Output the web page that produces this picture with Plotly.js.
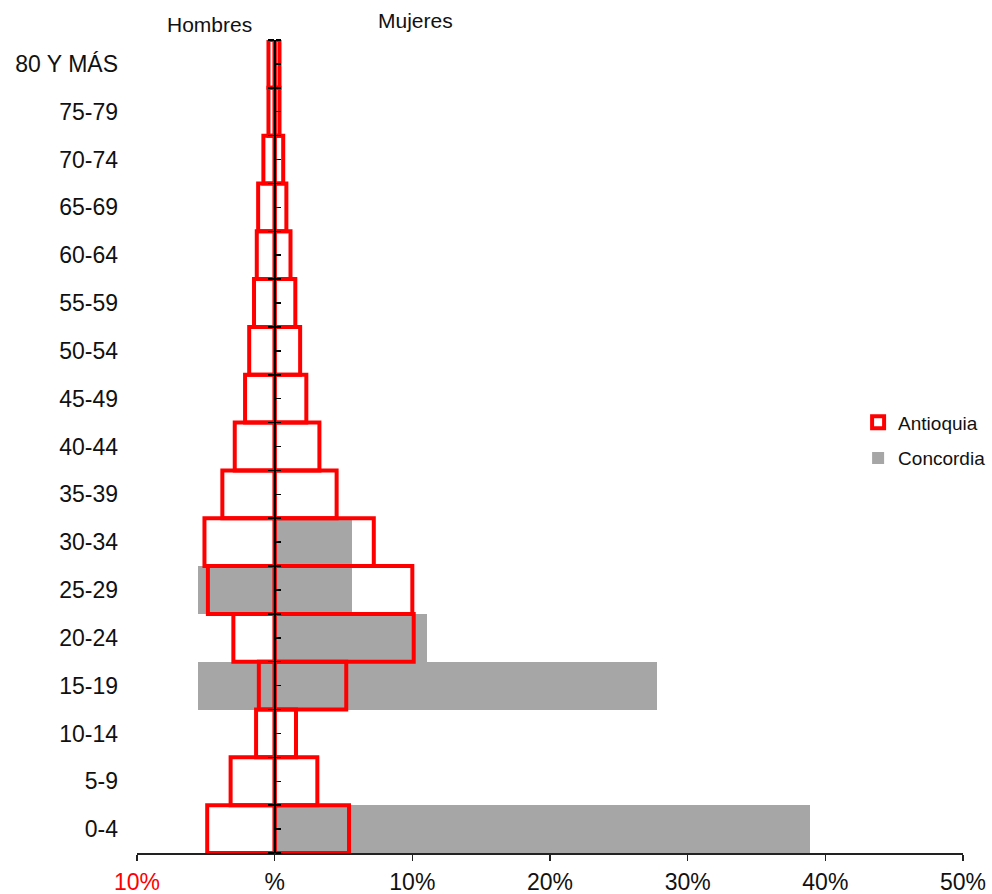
<!DOCTYPE html>
<html>
<head>
<meta charset="utf-8">
<script src="https://cdn.plot.ly/plotly-3.0.1.min.js"></script>
<style>
  html, body { margin: 0; padding: 0; background: #fff; }
  #chart { width: 992px; height: 894px; }
</style>
</head>
<body>
<div id="chart"></div>
<script>
// Age groups, youngest at the bottom
const ages = ['0-4', '5-9', '10-14', '15-19', '20-24', '25-29', '30-34', '35-39',
  '40-44', '45-49', '50-54', '55-59', '60-64', '65-69', '70-74', '75-79', '80 Y MÁS'];

// Share of population (%) per age group
const antioquiaHombres = [4.9, 3.2, 1.35, 1.15, 3.0, 4.85, 5.1, 3.8, 2.9, 2.15, 1.85, 1.5, 1.3, 1.2, 0.82, 0.45, 0.45];
const antioquiaMujeres = [5.4, 3.1, 1.55, 5.2, 10.1, 10.0, 7.2, 4.5, 3.25, 2.3, 1.85, 1.5, 1.15, 0.85, 0.62, 0.35, 0.35];
const concordiaHombres = [0, 0, 0, 5.6, 0, 5.6, 0, 0, 0, 0, 0, 0, 0, 0, 0, 0, 0];
const concordiaMujeres = [38.9, 0, 0, 27.8, 11.1, 5.6, 5.6, 0, 0, 0, 0, 0, 0, 0, 0, 0, 0];

// Horizontal axis ticks
const xTickVals = [-10, 0, 10, 20, 30, 40, 50];
const xTickText = ['<span style="color:#ff0000">10%</span>', '%', '10%', '20%', '30%', '40%', '50%'];

const FONT = 'Liberation Sans, Arial, sans-serif';
const RED = '#ff0000';
const GRAY = '#a6a6a6';

const neg = arr => arr.map(v => -v);

const traces = [
  {
    type: 'bar', orientation: 'h', name: 'Concordia', legendgroup: 'c',
    y: ages, x: neg(concordiaHombres),
    marker: { color: GRAY, line: { width: 0 } }, showlegend: false, legendrank: 2
  },
  {
    type: 'bar', orientation: 'h', name: 'Concordia', legendgroup: 'c',
    y: ages, x: concordiaMujeres,
    marker: { color: GRAY, line: { width: 0 } }, showlegend: true, legendrank: 2
  },
  {
    type: 'bar', orientation: 'h', name: 'Antioquia', legendgroup: 'a',
    y: ages, x: neg(antioquiaHombres),
    marker: { color: 'rgba(255,255,255,0)', line: { color: RED, width: 4 } }, showlegend: false, legendrank: 1
  },
  {
    type: 'bar', orientation: 'h', name: 'Antioquia', legendgroup: 'a',
    y: ages, x: antioquiaMujeres,
    marker: { color: 'rgba(255,255,255,0)', line: { color: RED, width: 4 } }, showlegend: true, legendrank: 1
  }
];

const nCat = ages.length;
const zeroPos = (0 - xTickVals[0]) / (xTickVals[xTickVals.length - 1] - xTickVals[0]);

const layout = {
  width: 992, height: 894,
  margin: { l: 137, r: 29, t: 40, b: 41, autoexpand: false },
  paper_bgcolor: '#fff', plot_bgcolor: '#fff',
  barmode: 'overlay', bargap: 0,
  font: { family: FONT, color: '#111', size: 23 },
  xaxis: {
    range: [xTickVals[0], xTickVals[xTickVals.length - 1]],
    tickvals: xTickVals, ticktext: xTickText,
    ticks: 'outside', ticklen: 6, tickcolor: '#222', tickwidth: 1.5,
    showline: true, linecolor: '#222', linewidth: 1.5,
    showgrid: false, zeroline: false, ticklabelstandoff: 2,
    tickfont: { family: FONT, size: 23, color: '#111' }
  },
  yaxis: {
    type: 'category', range: [-0.5, nCat - 0.5],
    showline: false, ticks: '', showgrid: false, zeroline: false,
    ticklabelstandoff: 18,
    tickfont: { family: FONT, size: 23, color: '#111' }
  },
  // vertical axis along the 0 % line: left half of the boundary ticks
  yaxis2: {
    overlaying: 'y', anchor: 'free', position: zeroPos, side: 'left',
    range: [-0.5, nCat - 0.5], tick0: -0.5, dtick: 1,
    ticks: 'outside', ticklen: 6, tickwidth: 1.5, tickcolor: '#000',
    showline: true, linecolor: '#000', linewidth: 2.5,
    showticklabels: false, showgrid: false, zeroline: false, layer: 'above traces'
  },
  // right-hand ticks at boundaries and group centres
  yaxis3: {
    overlaying: 'y', anchor: 'free', position: zeroPos, side: 'right',
    range: [-0.5, nCat - 0.5], tick0: -0.5, dtick: 0.5,
    ticks: 'outside', ticklen: 5, tickwidth: 1.5, tickcolor: '#000',
    showline: false, showticklabels: false, showgrid: false, zeroline: false, layer: 'above traces'
  },
  legend: {
    x: 0.873, y: 0.553, xanchor: 'left', yanchor: 'top',
    bgcolor: 'rgba(0,0,0,0)', traceorder: 'grouped', tracegroupgap: 8,
    font: { family: FONT, size: 19, color: '#111' }
  },
  annotations: [
    { text: 'Hombres', xref: 'x', yref: 'paper', x: -4.75, y: 1.0185, yanchor: 'middle', showarrow: false,
      font: { family: FONT, size: 21, color: '#111' } },
    { text: 'Mujeres', xref: 'x', yref: 'paper', x: 10.2, y: 1.0234, yanchor: 'middle', showarrow: false,
      font: { family: FONT, size: 21, color: '#111' } }
  ],
  showlegend: true
};

// invisible carriers so the overlay axes are drawn
traces.push({ type: 'scatter', x: [null], y: [null], yaxis: 'y2', showlegend: false, hoverinfo: 'skip' });
traces.push({ type: 'scatter', x: [null], y: [null], yaxis: 'y3', showlegend: false, hoverinfo: 'skip' });

Plotly.newPlot('chart', traces, layout, { displayModeBar: false, staticPlot: true });
</script>
</body>
</html>
